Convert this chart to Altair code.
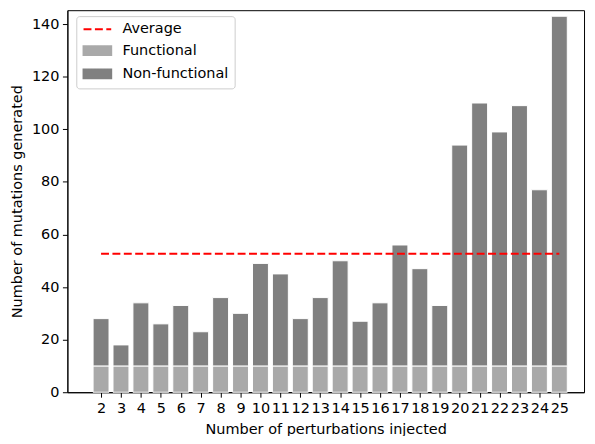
import altair as alt
import pandas as pd

perturbations = list(range(2, 26))
functional = [10, 10, 10, 10, 10, 10, 10, 10, 10, 10, 10, 10,
              10, 10, 10, 10, 10, 10, 10, 10, 10, 10, 10, 10]
non_functional = [18, 8, 24, 16, 23, 13, 26, 20, 39, 35, 18, 26,
                  40, 17, 24, 46, 37, 23, 84, 100, 89, 99, 67, 133]
categories = ["Average", "Functional", "Non-functional"]
colors = ["red", "#a9a9a9", "#808080"]
y_ticks = [0, 20, 40, 60, 80, 100, 120, 140]

df = pd.DataFrame({"n": perturbations, "functional": functional, "nonfunctional": non_functional})
totals = [f + nf for f, nf in zip(functional, non_functional)]
avg = sum(totals) / len(totals)
avg_df = pd.DataFrame({"start": [min(perturbations)], "end": [max(perturbations)], "avg": [avg]})

FONT = "DejaVu Sans"
FS = 14.6

xscale = alt.Scale(domain=[0.31, 26.24], nice=False, zero=False)
yscale = alt.Scale(domain=[0, 145.3], nice=False)
cscale = alt.Scale(domain=categories, range=colors)

rect_path = "M-2.33,-0.75H2.33V0.75H-2.33Z"
line_path = "M-2.33,0H2.33"

legend = alt.Legend(
    title=None, orient="none", legendX=9, legendY=6,
    fillColor="white", strokeColor="#cccccc", cornerRadius=3, padding=6,
    labelFont=FONT, labelFontSize=FS, labelColor="black",
    symbolSize=144, symbolOffset=8, labelOffset=18, rowPadding=5.5,
    symbolType=alt.ExprRef(expr=f"datum.value === 'Average' ? '{line_path}' : '{rect_path}'"),
    symbolStrokeColor=alt.ExprRef(expr="datum.value === 'Average' ? 'red' : 'transparent'"),
    symbolDash=alt.ExprRef(expr="datum.value === 'Average' ? [8, 3.5] : [1, 0]"),
    symbolStrokeWidth=2,
    symbolOpacity=1,
)

base = alt.Chart(df).transform_calculate(
    x0="datum.n - 0.4", x1="datum.n + 0.4",
    total="datum.functional + datum.nonfunctional",
)

xaxis = alt.Axis(values=perturbations, labelOverlap=False, labelFlush=False, grid=False,
                 title="Number of perturbations injected", titlePadding=7)
yaxis = alt.Axis(values=y_ticks, labelOverlap=False, grid=False,
                 title="Number of mutations generated", titlePadding=6.5)

func = base.transform_calculate(cat="'Functional'").mark_bar(
    stroke="white", strokeWidth=1, opacity=1).encode(
    x=alt.X("x0:Q", scale=xscale, axis=xaxis),
    x2="x1:Q",
    y=alt.Y("functional:Q", scale=yscale, axis=yaxis),
    y2=alt.datum(0),
    color=alt.Color("cat:N", scale=cscale, legend=legend),
)

nonfunc = base.transform_calculate(cat="'Non-functional'").mark_bar(
    stroke="white", strokeWidth=1, opacity=1).encode(
    x=alt.X("x0:Q", scale=xscale, axis=xaxis),
    x2="x1:Q",
    y=alt.Y("functional:Q", scale=yscale, axis=yaxis),
    y2="total:Q",
    color=alt.Color("cat:N", scale=cscale, legend=legend),
)

rule = alt.Chart(avg_df).transform_calculate(cat="'Average'").mark_rule(
    strokeDash=[8, 3.5], strokeWidth=2).encode(
    x=alt.X("start:Q", scale=xscale, axis=xaxis),
    x2="end:Q",
    y=alt.Y("avg:Q", scale=yscale, axis=yaxis),
    color=alt.Color("cat:N", scale=cscale, legend=legend),
)

chart = alt.layer(func, nonfunc, rule).properties(
    width=522, height=386,
    padding={"left": 60, "top": 0, "right": 3, "bottom": 42},
    autosize=alt.AutoSizeParams(type="none"),
).configure_view(
    stroke="black", strokeWidth=1,
).configure_axis(
    labelFont=FONT, labelFontSize=FS, labelColor="black",
    titleFont=FONT, titleFontSize=FS, titleColor="black", titleFontWeight="normal",
    domainColor="black", domainWidth=1, tickColor="black", tickSize=5, tickWidth=1,
    labelPadding=3.5,
)

chart.save("out.html", embed_options={"renderer": "svg", "actions": False})
